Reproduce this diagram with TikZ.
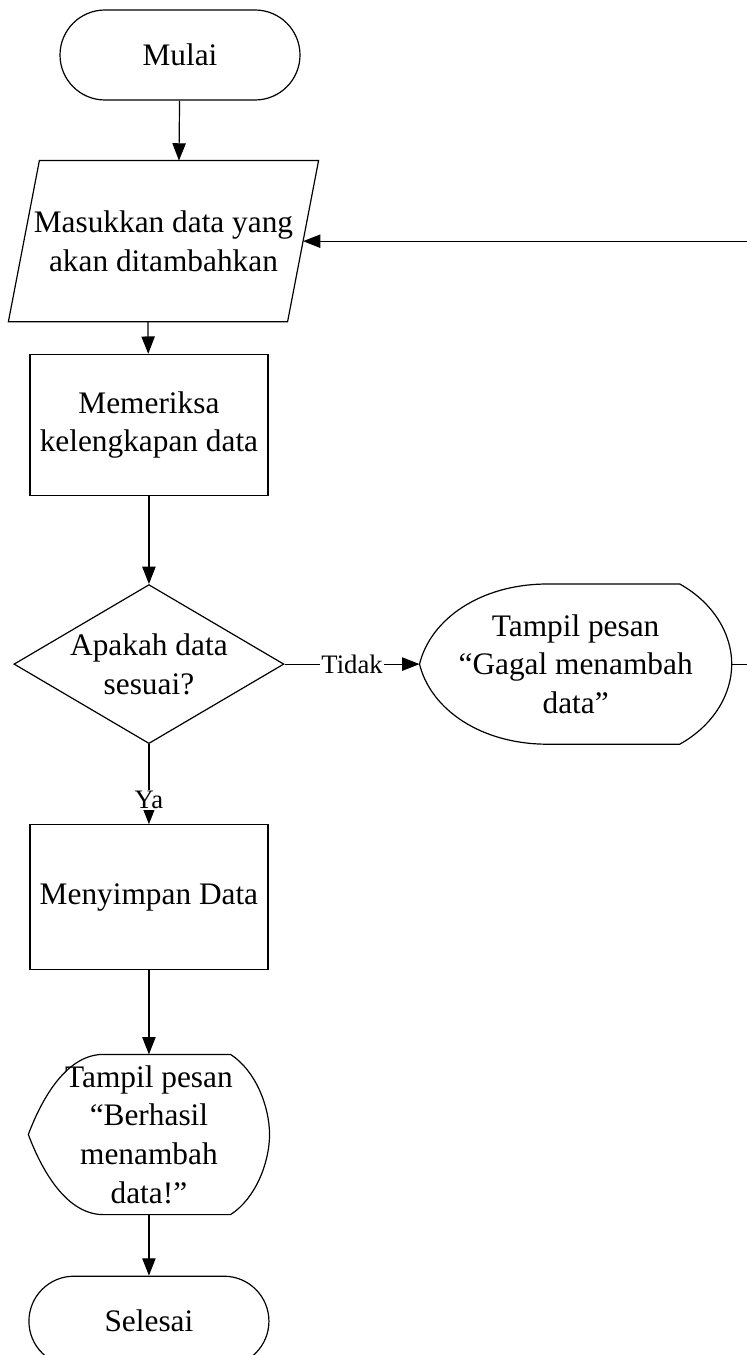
\documentclass[tikz,border=0pt]{standalone}
\usepackage{fontspec}
\setmainfont{Liberation Serif}
\usetikzlibrary{shapes,arrows.meta,positioning,calc}

\begin{document}
\begin{tikzpicture}[
    x=0.75pt, y=-0.75pt,
    line width=0.9pt,
    every node/.style={font=\fontsize{23.5}{29}\selectfont},
    term/.style={rectangle, draw, rounded corners=33.75pt, minimum width=180pt, minimum height=67.5pt},
    io/.style={rectangle, minimum width=231.75pt, minimum height=120pt, align=center},
    proc/.style={rectangle, draw, minimum width=178.5pt, align=center},
    decision/.style={diamond, draw, aspect=1.7, inner sep=0pt, minimum width=202.5pt, minimum height=119.25pt, align=center},
    disp/.style={rectangle, minimum height=119.25pt, align=center},
    lbl/.style={fill=white, inner sep=1pt, font=\fontsize{20}{24}\selectfont},
    arrow/.style={-{Triangle[length=13pt, width=10pt]}}
]
    \useasboundingbox (0,0) rectangle (746,1355);
    \node[term] (start) at (180,55) {Mulai};
    \node[io, below=45pt of start, xshift=-12.4pt] (input) {Masukkan data yang\\akan ditambahkan};
    \node[proc, minimum height=105.75pt, below=24pt of input, xshift=-10.9pt] (check) {Memeriksa\\kelengkapan data};
    \node[decision, below=66pt of check] (cek) {Apakah data\\sesuai?};
    \node[proc, minimum height=108.75pt, below=60pt of cek] (save) {Menyimpan Data};
    \node[disp, minimum width=180pt, below=63pt of save] (ok) {Tampil pesan\\“Berhasil\\menambah\\data!”};
    \node[term, below=45.75pt of ok] (stop) {Selesai};
    \node[disp, minimum width=233.25pt, right=101.25pt of cek] (fail) {Tampil pesan\\“Gagal menambah\\data”};

    % parallelogram and display outlines
    \draw ($(input.north west)+(31,0)$) -- (input.north east) -- ($(input.south east)+(-31,0)$) -- (input.south west) -- cycle;
    \draw (fail.west) .. controls ($(fail.west)+(11,-45)$) and ($(fail.north west)+(61,0)$) .. ($(fail.north west)+(128,0)$)
        -- ($(fail.north east)+(-52,0)$) .. controls ($(fail.north east)+(-18,19)$) and ($(fail.east)+(0,-30)$) .. (fail.east)
        .. controls ($(fail.east)+(0,30)$) and ($(fail.south east)+(-18,-19)$) .. ($(fail.south east)+(-52,0)$)
        -- ($(fail.south west)+(128,0)$) .. controls ($(fail.south west)+(61,0)$) and ($(fail.west)+(11,45)$) .. (fail.west) -- cycle;
    \draw (ok.west) .. controls ($(ok.west)+(15,-40)$) and ($(ok.north west)+(40,0)$) .. ($(ok.north west)+(75,0)$)
        -- ($(ok.north east)+(-39,0)$) .. controls ($(ok.north east)+(-14,16)$) and ($(ok.east)+(0,-28)$) .. (ok.east)
        .. controls ($(ok.east)+(0,28)$) and ($(ok.south east)+(-14,-16)$) .. ($(ok.south east)+(-39,0)$)
        -- ($(ok.south west)+(75,0)$) .. controls ($(ok.south west)+(40,0)$) and ($(ok.west)+(15,40)$) .. (ok.west) -- cycle;

    \draw[arrow] (start) -- ($(input.north)+(15.5,0)$);
    \draw[arrow] ($(input.south)+(-15.5,0)$) -- (check);
    \draw[arrow] (check) -- (cek);
    \draw[arrow] (cek) -- node[lbl] {Tidak} (fail.west);
    \draw[arrow] (cek) -- node[lbl, pos=0.7] {Ya} (save);
    \draw[arrow] (save) -- (ok);
    \draw[arrow] (ok) -- (stop);
    \draw[arrow] (fail.east) -- ++(40,0) |- ($(input.east)+(-15.5,0)$);
\end{tikzpicture}
\end{document}
